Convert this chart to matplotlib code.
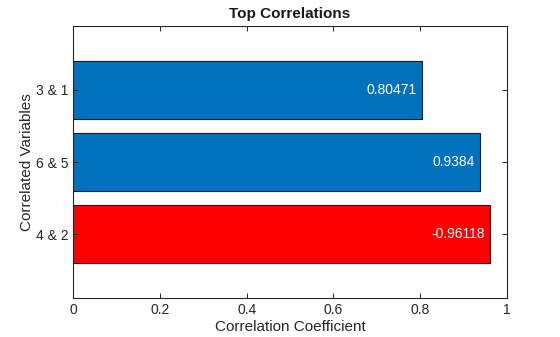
import matplotlib
matplotlib.use("Agg")
import matplotlib.pyplot as plt

plt.rcParams['font.family'] = ['Liberation Sans', 'DejaVu Sans']

categories = ["4 & 2", "6 & 5", "3 & 1"]
abs_values = [0.96118, 0.9384, 0.80471]
labels = ["-0.96118", "0.9384", "0.80471"]
colors = ["#FF0000", "#0072BD", "#0072BD"]

fig = plt.figure(figsize=(5.6, 3.37), dpi=100)
ax = fig.add_axes([73.3/560, 1-298/337, (506.7-73.3)/560, (298-26)/337])

pos = list(range(1, len(categories)+1))
bars = ax.barh(pos, abs_values, height=0.8, color=colors, edgecolor="#1a1a1a", linewidth=0.8)
for p, v, t in zip(pos, abs_values, labels):
    ax.text(v - 0.012, p, t, ha="right", va="center", color="white", fontsize=10)

ax.set_xlim(0, 1)
ax.set_ylim(0.12, 3.88)
ax.set_yticks(pos)
ax.set_yticklabels(categories)
ax.set_xticks([0, 0.2, 0.4, 0.6, 0.8, 1])
ax.set_xticklabels(["0", "0.2", "0.4", "0.6", "0.8", "1"])
ax.tick_params(direction="in", top=True, right=True, length=3.5, width=0.7,
               colors="#262626", labelsize=10, labelcolor="#262626")
for s in ax.spines.values():
    s.set_color("#262626")
    s.set_linewidth(0.8)
ax.set_title("Top Correlations", fontsize=11, fontweight="bold", color="#1a1a1a", pad=6)
ax.set_xlabel("Correlation Coefficient", fontsize=11, color="#262626", labelpad=2)
ax.set_ylabel("Correlated Variables", fontsize=11, color="#262626", labelpad=1)

fig.savefig("out.png", dpi=100)
